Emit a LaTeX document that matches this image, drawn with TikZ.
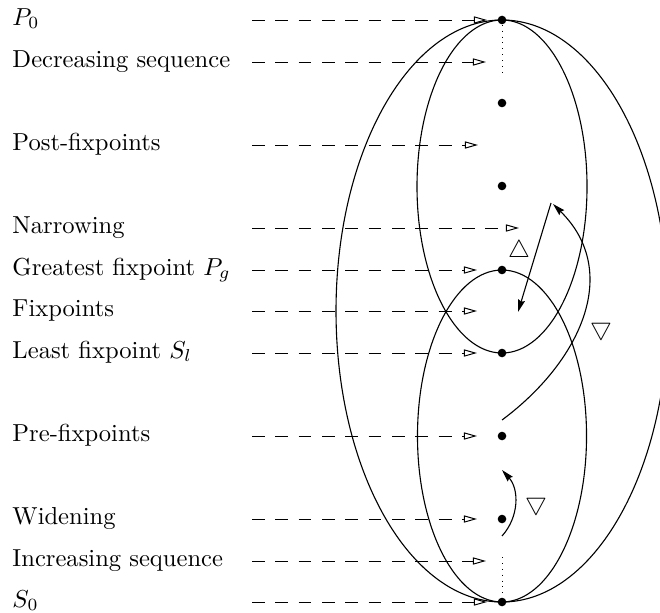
\documentclass[tikz,border=0pt]{standalone}
\usetikzlibrary{arrows.meta}
\begin{document}
\begin{tikzpicture}[x=0.407pt,y=-0.407pt,
  lbl/.style={anchor=mid west,inner sep=0pt},
  dot/.style={circle,fill=black,inner sep=0pt,minimum size=3.5pt},
  ptr/.style={dash pattern=on 5.2pt off 4.3pt,-{Triangle[open,length=5.3pt,width=2.9pt]}},
  curve/.style={line width=0.45pt},
  fl/.style={-{Stealth[length=5pt,width=2.8pt,inset=0.6pt]}},
  tri/.style={inner sep=0pt}]
\useasboundingbox (0,0) rectangle (660,612);
\clip (0,0) rectangle (660,612);
% dots
\node[dot] (p0) at (502,20) {};
\node[dot] (d1) at (502,103) {};
\node[dot] (d2) at (502,186) {};
\node[dot] (pg) at (502,270) {};
\node[dot] (sl) at (502,353) {};
\node[dot] (d3) at (502,436) {};
\node[dot] (d4) at (502,519) {};
\node[dot] (s0) at (502,602) {};
% ellipses
\draw[curve] (502,311) ellipse [x radius=67.56pt, y radius=118.44pt];
\draw[curve] (502,186.5) ellipse [x radius=34.6pt, y radius=67.77pt];
\draw[curve] (502,436) ellipse [x radius=34.4pt, y radius=67.56pt];
% dotted
\coordinate (dt1) at (502,73);
\coordinate (dt2) at (502,557);
\draw[dotted] (p0) -- (dt1);
\draw[dotted] (dt2) -- (s0);
% labels
\node[lbl] (l1) at (12,20) {$P_0$};
\node[lbl] (l2) at (12,62) {Decreasing sequence};
\node[lbl] (l3) at (12,145) {Post-fixpoints};
\node[lbl] (l4) at (12,228) {Narrowing};
\node[lbl] (l5) at (12,270) {Greatest fixpoint $P_g$};
\node[lbl] (l6) at (12,311) {Fixpoints};
\node[lbl] (l7) at (12,353) {Least fixpoint $S_l$};
\node[lbl] (l8) at (12,436) {Pre-fixpoints};
\node[lbl] (l9) at (12,519) {Widening};
\node[lbl] (l10) at (12,561) {Increasing sequence};
\node[lbl] (l11) at (12,602) {$S_0$};
% arrow starts/ends
\foreach \n/\y/\e in {1/20/487,2/62/486,3/145/478,4/228/519,5/270/477,6/311/477,7/353/477,8/436/477,9/519/477,10/561/486,11/602/487}{
  \coordinate (a\n) at (252,\y);
  \coordinate (b\n) at (\e,\y);
  \draw[ptr] (a\n) -- (b\n);
}
% narrowing arrows
\coordinate (n1) at (502,420);
\coordinate (n2) at (553,204);
\coordinate (m1) at (551,203);
\coordinate (m2) at (518,312);
\draw[curve,fl] (n1) .. controls (580,362) and (622,272) .. (n2);
\draw[curve,fl] (m1) -- (m2);
% widening arrow
\coordinate (w1) at (502,536);
\coordinate (w2) at (502,470);
\draw[curve,fl] (w1) to[bend right=42] (w2);
% triangles
\node[tri] (t1) at (519,251) {$\bigtriangleup$};
\node[tri] (t2) at (601,329) {$\bigtriangledown$};
\node[tri] (t3) at (536,504) {$\bigtriangledown$};
\end{tikzpicture}
\end{document}
